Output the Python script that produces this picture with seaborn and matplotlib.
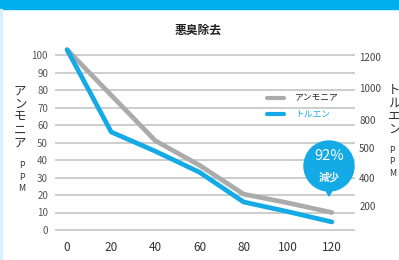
import numpy as np
import pandas as pd
import matplotlib
matplotlib.use("Agg")
import matplotlib.pyplot as plt
import seaborn as sns
from matplotlib.patches import Rectangle, Ellipse, Polygon

minutes = [0, 20, 40, 60, 80, 100, 120]
ammonia = [103, 77, 51, 37, 20.5, 15.5, 10]
toluene = [103, 56, 45, 33, 16, 10.5, 4.6]
series_names = ["アンモニア", "トルエン"]
left_ticks = list(range(0, 101, 10))
right_tick_pos = [99, 81, 63, 47, 30, 14]
right_tick_labels = ["1200", "1000", "800", "500", "400", "200"]

BLUE = "#14aae6"
GRAY = "#ababab"

df = pd.DataFrame({
    "min": minutes * 2,
    "ppm": ammonia + toluene,
    "series": [series_names[0]] * len(minutes) + [series_names[1]] * len(minutes),
})

sns.set_theme(style="white")
plt.rcParams["font.family"] = ["Noto Sans CJK JP", "DejaVu Sans"]

W, H = 399, 260
fig = plt.figure(figsize=(W / 100, H / 100), dpi=100)
ax = fig.add_axes([55 / W, 1 - 231.75 / H, 300 / W, 187.25 / H])

sns.lineplot(data=df, x="min", y="ppm", hue="series", hue_order=series_names,
             palette={series_names[0]: GRAY, series_names[1]: BLUE},
             ax=ax, linewidth=3.4, solid_capstyle="round", solid_joinstyle="round")

ax.set_xlim(-5.5, 130.5)
ax.set_ylim(-1, 106)
ax.set_yticks(left_ticks)
ax.set_xticks(minutes)
ax.grid(axis="y", color="#c9c9c9", linewidth=1.3)
ax.grid(axis="x", visible=False)
ax.set_axisbelow(True)
for s in ax.spines.values():
    s.set_visible(False)
ax.tick_params(axis="y", length=0, pad=5, labelsize=7, labelcolor="#555555")
ax.tick_params(axis="x", length=0, pad=7, labelsize=8.5, labelcolor="#333333")
ax.set_xlabel("")
ax.set_ylabel("")

ax2 = ax.twinx()
ax2.set_ylim(ax.get_ylim())
ax2.set_yticks(right_tick_pos)
ax2.set_yticklabels(right_tick_labels)
ax2.tick_params(axis="y", length=0, pad=3, labelsize=7, labelcolor="#444444")
ax2.grid(False)
for s in ax2.spines.values():
    s.set_visible(False)

leg = ax.legend(loc="upper left", bbox_to_anchor=(0.68, 0.78), frameon=False,
                fontsize=6.3, handlelength=2.0, handletextpad=1.2, labelspacing=0.8)
leg.get_texts()[1].set_color(BLUE)
for line in leg.get_lines():
    line.set_linewidth(3)

# top bar and frame
fig.patches.append(Rectangle((0, 1 - 9 / H), 1, 9 / H, transform=fig.transFigure,
                             color="#00adef", zorder=0))
fig.patches.append(Rectangle((0, 0), 2 / W, 1 - 9 / H, transform=fig.transFigure,
                             color="#d8f2fc", zorder=0))

fig.text(198 / W, 1 - 30 / H, "悪臭除去", ha="center", va="center",
         fontsize=8.5, fontweight="bold", color="#222222")

# axis titles
fig.text(20 / W, 1 - 117 / H, "\n".join("アンモニア"), ha="center", va="center",
         fontsize=9, linespacing=1.0, color="#333333")
fig.text(22 / W, 1 - 177 / H, "P\nP\nM", ha="center", va="center",
         fontsize=6.3, linespacing=1.35, color="#333333")
fig.text(388 / W, 1 - 110 / H, "\n".join("トルエン"), ha="left", va="center",
         fontsize=9, linespacing=1.0, color="#333333")
fig.text(389 / W, 1 - 162 / H, "P\nP\nM", ha="left", va="center",
         fontsize=6.3, linespacing=1.35, color="#333333")

# bubble
cx, cy, r = 329, 166, 25
fig.patches.append(Ellipse((cx / W, 1 - cy / H), 2 * r / W, 2 * r / H,
                           transform=fig.transFigure, color=BLUE, zorder=5))
fig.patches.append(Polygon([((cx - 4) / W, 1 - (cy + r - 2) / H),
                            ((cx + 4) / W, 1 - (cy + r - 2) / H),
                            (cx / W, 1 - (cy + r + 5) / H)],
                           transform=fig.transFigure, color=BLUE, zorder=5))
fig.text(cx / W, 1 - 156 / H, "92%", ha="center", va="center", fontsize=10.5,
         color="white", zorder=6)
fig.text(cx / W, 1 - 177 / H, "減少", ha="center", va="center", fontsize=7.5,
         fontweight="bold", color="white", zorder=6)

fig.savefig("out.png", dpi=100)
